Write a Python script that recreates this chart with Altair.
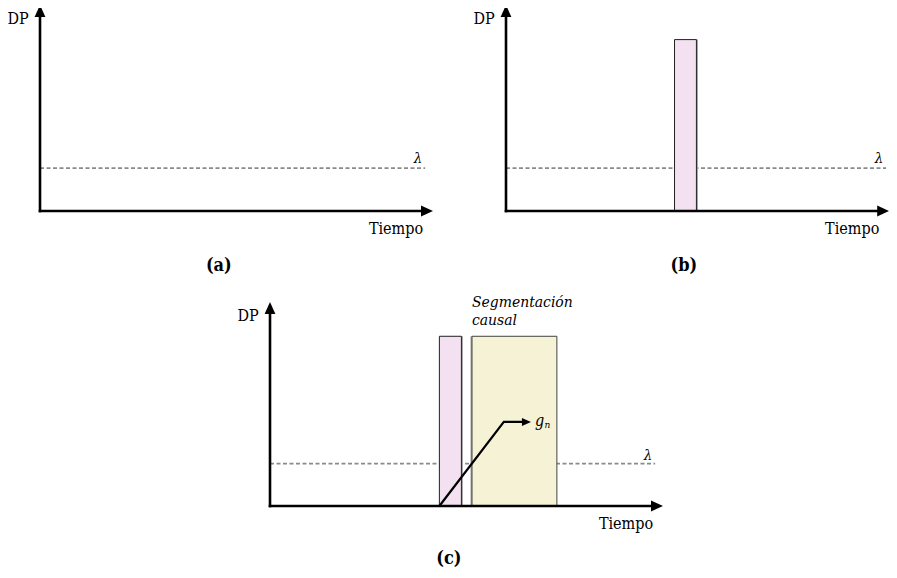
import altair as alt
import pandas as pd

# ---------------- data (axis units: time 0-100, DP 0-100) ----------------
PANELS = ["a", "b", "c"]
PANEL_LABELS = ["(a)", "(b)", "(c)"]
Y_LABEL = "DP"
X_LABEL = "Tiempo"
THRESH_LABEL = "λ"
THRESH_LEVEL = [20.8, 20.8, 20.8]
THRESH_END = [98.0, 97.2, 98.0]
AXIS_END = [100.0, 98.0, 100.0]
PULSE_PANELS = ["b", "c"]
PULSE_START = [43.1, 43.1]
PULSE_END = [48.7, 48.7]
PULSE_TOP = [83.2, 83.2]
SEG_PANELS = ["c"]
SEG_START = [51.4]
SEG_END = [73.0]
SEG_TOP = [83.2]
SEG_LABEL = ["Segmentación", "causal"]
GN_T = [43.1, 59.5, 66.4]
GN_DP = [0.0, 41.2, 41.2]
GN_LABEL = ["g", "n"]

# ---------------- layout (page pixels) ----------------
LAYOUT = {
    "a": dict(x0=40, y0=211, xlen=393, ylen=206),
    "b": dict(x0=506, y0=211, xlen=391, ylen=206),
    "c": dict(x0=270, y0=506, xlen=393, ylen=204),
}
W, H = 881, 562
FONT = "DejaVu Serif Condensed, DejaVu Serif"


def X(p, t):
    L = LAYOUT[p]
    return L["x0"] + t / 100.0 * L["xlen"]


def Y(p, d):
    L = LAYOUT[p]
    return L["y0"] - d / 100.0 * L["ylen"]


xs = alt.Scale(domain=[8, 8 + W], zero=False, nice=False)
ys = alt.Scale(domain=[8 + H, 8], zero=False, nice=False)


def enc(**kw):
    out = {}
    for k, v in kw.items():
        if k == "x":
            out[k] = alt.X(v, type="quantitative", scale=xs, axis=None)
        elif k == "x2":
            out[k] = alt.X2(v)
        elif k == "y":
            out[k] = alt.Y(v, type="quantitative", scale=ys, axis=None)
        elif k == "y2":
            out[k] = alt.Y2(v)
        else:
            out[k] = v
    return out


# axis lines
ax_rows = []
up_rows, right_rows = [], []
for p, ae in zip(PANELS, AXIS_END):
    ax_rows.append(dict(x=X(p, 0), y=Y(p, 0) + 1.3, x2=X(p, 0), y2=Y(p, 100) + 10))
    ax_rows.append(dict(x=X(p, 0) - 1.3, y=Y(p, 0), x2=X(p, ae) - 10, y2=Y(p, 0)))
    up_rows.append(dict(x=X(p, 0), y=Y(p, 100) + 6))
    right_rows.append(dict(x=X(p, ae) - 6, y=Y(p, 0)))
ax_df = pd.DataFrame(ax_rows)

axes = alt.Chart(ax_df).mark_rule(color="black", strokeWidth=2.6, strokeCap="butt").encode(
    **enc(x="x", y="y", x2="x2", y2="y2"))

up_arrow = alt.Chart(pd.DataFrame(up_rows)).mark_point(
    shape="M0,-1L0.9,1L-0.9,1Z", filled=True, color="black", opacity=1, size=144).encode(
    **enc(x="x", y="y"))
right_arrow = alt.Chart(pd.DataFrame(right_rows)).mark_point(
    shape="M1,0L-1,0.9L-1,-0.9Z", filled=True, color="black", opacity=1, size=144).encode(
    **enc(x="x", y="y"))

# threshold lines
th_df = pd.DataFrame([dict(x=X(p, 0), x2=X(p, e), y=Y(p, lv))
                      for p, lv, e in zip(PANELS, THRESH_LEVEL, THRESH_END)])
thresh = alt.Chart(th_df).mark_rule(color="#8a8a8a", strokeWidth=1.7, strokeDash=[4, 2.5]).encode(
    **enc(x="x", x2="x2", y="y"))

# pulses and segmentation box
pl_df = pd.DataFrame([dict(x=X(p, s), x2=X(p, e), y=Y(p, top), y2=Y(p, 0))
                      for p, s, e, top in zip(PULSE_PANELS, PULSE_START, PULSE_END, PULSE_TOP)])
sg_df = pd.DataFrame([dict(x=X(p, s), x2=X(p, e), y=Y(p, top), y2=Y(p, 0))
                      for p, s, e, top in zip(SEG_PANELS, SEG_START, SEG_END, SEG_TOP)])

shadow_p = alt.Chart(pl_df).mark_rect(color="#a0a0a0", xOffset=1.5, x2Offset=1.5).encode(
    **enc(x="x", x2="x2", y="y", y2="y2"))
pulse = alt.Chart(pl_df).mark_rect(fill="#f3e0f0", stroke="#222", strokeWidth=1).encode(
    **enc(x="x", x2="x2", y="y", y2="y2"))
shadow_s = alt.Chart(sg_df).mark_rect(color="#a0a0a0", xOffset=-1.5, x2Offset=-1.5).encode(
    **enc(x="x", x2="x2", y="y", y2="y2"))
seg = alt.Chart(sg_df).mark_rect(fill="#f6f2d5", stroke="#444", strokeWidth=1).encode(
    **enc(x="x", x2="x2", y="y", y2="y2"))

# g_n line
gn_df = pd.DataFrame(dict(x=[X("c", t) for t in GN_T[:-1]] + [X("c", GN_T[-1]) - 6],
                          y=[Y("c", d) for d in GN_DP], o=list(range(len(GN_T)))))
gn_line = alt.Chart(gn_df).mark_line(color="black", strokeWidth=2.2).encode(
    **enc(x="x", y="y"), order="o:O")
gn_arrow = alt.Chart(pd.DataFrame([dict(x=X("c", GN_T[-1]) - 4.5, y=Y("c", GN_DP[-1]))])).mark_point(
    shape="M1,0L-1,0.9L-1,-0.9Z", filled=True, color="black", opacity=1, size=81).encode(
    **enc(x="x", y="y"))

# texts
normal_rows, italic_rows, bold_rows = [], [], []
for p, lab, ae in zip(PANELS, PANEL_LABELS, AXIS_END):
    L = LAYOUT[p]
    normal_rows.append(dict(x=L["x0"] - 22, y=Y(p, 100) + 14, t=Y_LABEL))
    normal_rows.append(dict(x=X(p, ae) - 37, y=Y(p, 0) + 18, t=X_LABEL))
    italic_rows.append(dict(x=X(p, THRESH_END[PANELS.index(p)] - 1.8),
                            y=Y(p, 0) - 53 if p != "c" else Y(p, 0) - 51, t=THRESH_LABEL))
    bold_rows.append(dict(x=X(p, 45.5), y=Y(p, 0) + (55 if p != "c" else 53), t=lab))

txt_normal = alt.Chart(pd.DataFrame(normal_rows)).mark_text(
    font=FONT, fontSize=16, color="black", baseline="middle", align="center").encode(
    **enc(x="x", y="y"), text="t:N")
txt_italic = alt.Chart(pd.DataFrame(italic_rows)).mark_text(
    font=FONT, fontSize=15, fontStyle="italic", color="black", baseline="middle", align="center").encode(
    **enc(x="x", y="y"), text="t:N")
txt_bold = alt.Chart(pd.DataFrame(bold_rows)).mark_text(
    font=FONT, fontSize=18, fontWeight="bold", color="black", baseline="middle", align="center").encode(
    **enc(x="x", y="y"), text="t:N")

seg_txt_df = pd.DataFrame([dict(x=X("c", SEG_START[0]), y=Y("c", SEG_TOP[0]) - 34 + 18 * i, t=s)
                           for i, s in enumerate(SEG_LABEL)])
txt_seg = alt.Chart(seg_txt_df).mark_text(
    font=FONT, fontSize=15.5, fontStyle="italic", color="black", baseline="middle", align="left").encode(
    **enc(x="x", y="y"), text="t:N")

gx = X("c", GN_T[-1]) + 4
gy = Y("c", GN_DP[-1])
g_df = pd.DataFrame([dict(x=gx, y=gy - 1, t=GN_LABEL[0])])
n_df = pd.DataFrame([dict(x=gx + 9.5, y=gy + 3, t=GN_LABEL[1])])
txt_g = alt.Chart(g_df).mark_text(
    font=FONT, fontSize=16, fontStyle="italic", color="black", baseline="middle", align="left").encode(
    **enc(x="x", y="y"), text="t:N")
txt_n = alt.Chart(n_df).mark_text(
    font=FONT, fontSize=10, fontStyle="italic", color="black", baseline="middle", align="left").encode(
    **enc(x="x", y="y"), text="t:N")

chart = alt.layer(
    thresh, shadow_s, seg, shadow_p, pulse, gn_line, gn_arrow, axes, up_arrow, right_arrow,
    txt_normal, txt_italic, txt_bold, txt_seg, txt_g, txt_n
).properties(width=W, height=H, autosize="none", padding=0).configure_view(stroke=None)

chart.save("out.html", embed_options={"renderer": "svg", "actions": False})
